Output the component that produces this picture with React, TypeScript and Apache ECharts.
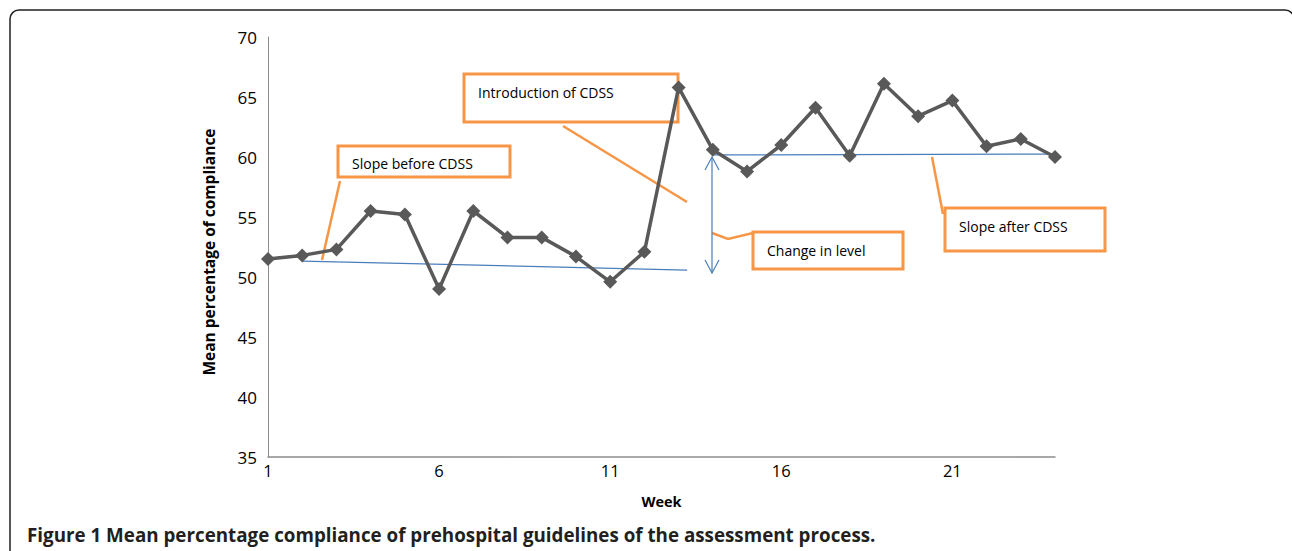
import React, { useEffect, useRef } from "react";
import * as echarts from "echarts";

const weeks = [1, 2, 3, 4, 5, 6, 7, 8, 9, 10, 11, 12, 13, 14, 15, 16, 17, 18, 19, 20, 21, 22, 23, 24];
const compliance = [51.5, 51.8, 52.3, 55.5, 55.2, 49.0, 55.5, 53.3, 53.3, 51.7, 49.6, 52.1, 65.8, 60.6, 58.8, 61.0, 64.1, 60.1, 66.1, 63.4, 64.7, 60.9, 61.5, 60.0];
const slopeBefore = [[2, 51.33], [13.25, 50.58]];
const slopeAfter = [[14, 60.17], [25.03, 60.25]];
const yTicks = { min: 35, max: 70, step: 5 };
const xLabelWeeks = [1, 6, 11, 16, 21];

const FONT = "'Open Sans', 'DejaVu Sans', sans-serif";
const ORANGE = "#F79646";
const BLUE = "#4A7EBB";

function box(x: number, y: number, w: number, h: number, label: string, tx: number, ty: number) {
  return [
    { type: "rect", z: 0, shape: { x, y, width: w, height: h }, style: { fill: "#fff", stroke: ORANGE, lineWidth: 3 } },
    { type: "text", z: 0, x: tx, y: ty, style: { text: label, font: `14px ${FONT}`, fill: "#000", verticalAlign: "middle", align: "left" } },
  ];
}

export default function App() {
  const ref = useRef<HTMLDivElement>(null);
  useEffect(() => {
    if (!ref.current) return;
    const chart = echarts.init(ref.current, null, { renderer: "svg" });
    chart.setOption({
      animation: false,
      backgroundColor: "#fff",
      grid: { left: 268, top: 37, width: 787, height: 420, containLabel: false },
      xAxis: {
        type: "value",
        min: weeks[0],
        max: weeks[weeks.length - 1],
        interval: 1,
        name: "Week",
        nameLocation: "middle",
        nameGap: 37,
        nameTextStyle: { fontFamily: FONT, fontWeight: "bold", fontSize: 14.5, color: "#000" },
        axisLine: { lineStyle: { color: "#8c8c8c", width: 1.5 } },
        axisTick: { show: false },
        splitLine: { show: false },
        axisLabel: {
          margin: 5,
          fontFamily: FONT,
          fontSize: 16.5,
          color: "#000",
          formatter: (v: number) => (xLabelWeeks.includes(v) ? String(v) : ""),
        },
      },
      yAxis: {
        type: "value",
        min: yTicks.min,
        max: yTicks.max,
        interval: yTicks.step,
        name: "Mean percentage of compliance",
        nameLocation: "middle",
        nameGap: 51,
        nameTextStyle: { fontFamily: FONT, fontWeight: "bold", fontSize: 15.5, color: "#000", padding: [0, 10, 0, 0] },
        axisLine: { show: true, lineStyle: { color: "#8c8c8c", width: 1 } },
        axisTick: { show: false },
        splitLine: { show: false },
        axisLabel: { margin: 11, fontFamily: FONT, fontSize: 17, color: "#000" },
      },
      series: [
        {
          type: "line",
          data: slopeBefore,
          clip: false,
          symbol: "none",
          z: 1,
          lineStyle: { color: BLUE, width: 1.2 },
        },
        {
          type: "line",
          data: slopeAfter,
          clip: false,
          symbol: "none",
          z: 1,
          lineStyle: { color: BLUE, width: 1.2 },
        },
        {
          type: "line",
          data: weeks.map((w, i) => [w, compliance[i]]),
          symbol: "diamond",
          symbolSize: 14,
          z: 3,
          lineStyle: { color: "#595959", width: 3.5 },
          itemStyle: { color: "#595959" },
        },
      ],
      graphic: [
        {
          type: "rect",
          z: 0,
          shape: { x: 10, y: 10, width: 1284, height: 620, r: 9 },
          style: { fill: "none", stroke: "#231f20", lineWidth: 1.5 },
        },
        ...box(464, 74, 214, 48, "Introduction of CDSS", 478, 92),
        ...box(338, 146, 172, 31, "Slope before CDSS", 352, 163),
        ...box(753, 232, 150, 37, "Change in level", 767, 250),
        ...box(945, 208, 160, 43, "Slope after CDSS", 959, 226),
        { type: "line", z: 0, shape: { x1: 563, y1: 126, x2: 687, y2: 202 }, style: { stroke: ORANGE, lineWidth: 2.5 } },
        { type: "line", z: 0, shape: { x1: 340, y1: 181, x2: 322, y2: 260 }, style: { stroke: ORANGE, lineWidth: 2.5 } },
        { type: "line", z: 0, shape: { x1: 932, y1: 157, x2: 943, y2: 214 }, style: { stroke: ORANGE, lineWidth: 2.5 } },
        { type: "polyline", z: 0, shape: { points: [[712, 233], [728, 239], [753, 233]] }, style: { stroke: ORANGE, lineWidth: 2.5, fill: "none" } },
        { type: "line", z: 0, shape: { x1: 712, y1: 157, x2: 712, y2: 273 }, style: { stroke: BLUE, lineWidth: 1.2 } },
        { type: "polyline", z: 0, shape: { points: [[705, 170], [712, 157], [719, 170]] }, style: { stroke: BLUE, lineWidth: 1.2, fill: "none" } },
        { type: "polyline", z: 0, shape: { points: [[705, 260], [712, 273], [719, 260]] }, style: { stroke: BLUE, lineWidth: 1.2, fill: "none" } },
        {
          type: "text",
          z: 0,
          x: 27,
          y: 535,
          style: {
            text: "Figure 1 Mean percentage compliance of prehospital guidelines of the assessment process.",
            font: `bold 18.8px ${FONT}`,
            fill: "#231f20",
            verticalAlign: "middle",
            align: "left",
          },
        },
      ],
    });
    return () => chart.dispose();
  }, []);
  return <div ref={ref} style={{ position: "fixed", left: 0, top: 0, width: 1292, height: 551 }} />;
}
